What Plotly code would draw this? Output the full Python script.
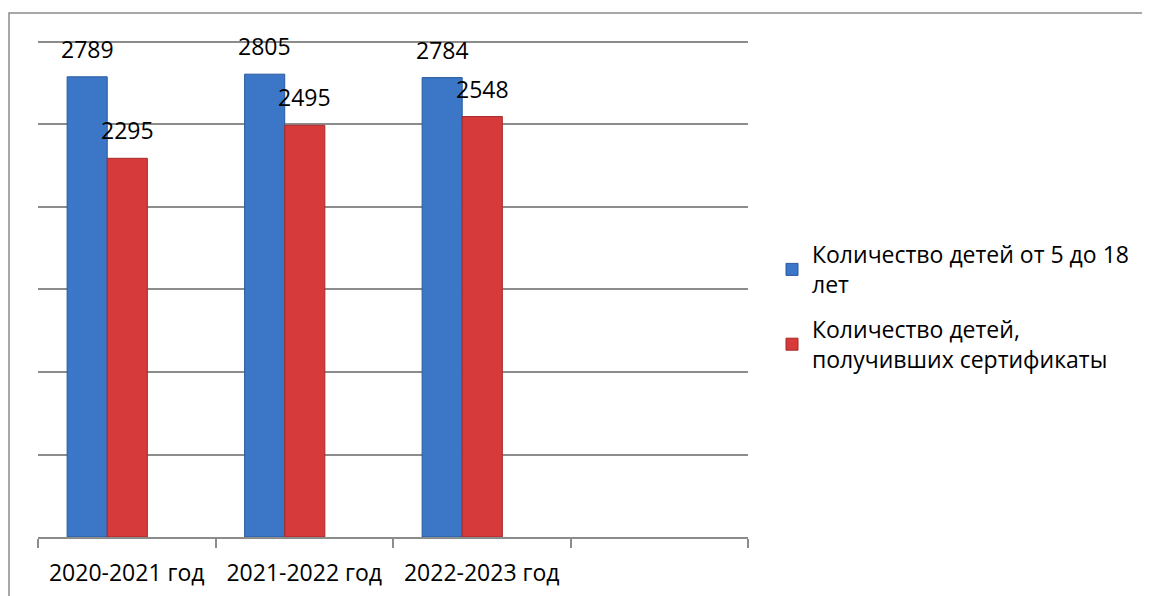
import plotly.graph_objects as go

categories = ["2020-2021 год", "2021-2022 год", "2022-2023 год"]
all_categories = categories + [" "]
series_names = ["Количество детей от 5 до 18<br>лет", "Количество детей,<br>получивших сертификаты"]
children_total = [2789, 2805, 2784]
children_certified = [2295, 2495, 2548]

FONT = "Open Sans"
FS = 23
W, H = 1142, 588
L, R, T, B = 30, 402, 32, 59
PW, PH = W - L - R, H - T - B

bar_w = 0.226
offsets = [-0.336, -0.336 + bar_w]
colors = ["#3b77c6", "#d63a3a"]
edge = ["#2a5a9e", "#a82828"]

fig = go.Figure()
for k, (name, vals, off, c, e) in enumerate(zip(series_names, [children_total, children_certified], offsets, colors, edge)):
    fig.add_trace(go.Bar(
        x=categories, y=vals, name=name, legendgroup=f"g{k}",
        offset=off, width=bar_w,
        marker=dict(color=c, line=dict(color=e, width=1)),
    ))
    for i, v in enumerate(vals):
        fig.add_annotation(
            x=i + off + bar_w / 2, y=v, xref="x", yref="y",
            text=str(v), showarrow=False, yanchor="bottom",
            yshift=10, font=dict(family=FONT, size=FS, color="#000000"),
        )

fig.add_shape(type="rect", xref="paper", yref="paper",
              x0=(1 - L) / PW, x1=(W + 20 - L) / PW,
              y0=-(B + 20) / PH, y1=(H - 5 - B) / PH,
              line=dict(color="#8c8c8c", width=1.5), fillcolor="rgba(0,0,0,0)", layer="below")

fig.update_layout(
    width=W, height=H,
    margin=dict(l=L, r=R, t=T, b=B, autoexpand=False),
    paper_bgcolor="white", plot_bgcolor="white",
    barmode="overlay",
    font=dict(family=FONT, size=FS, color="#000000"),
    showlegend=True,
    legend=dict(x=(764 - L) / PW, y=(H - B - 299) / PH, xanchor="left", yanchor="middle",
                font=dict(family=FONT, size=FS, color="#000000"),
                tracegroupgap=12, bgcolor="rgba(0,0,0,0)"),
    xaxis=dict(type="category", categoryorder="array", categoryarray=all_categories,
               range=[-0.5, 3.5], tickson="boundaries", ticks="outside", ticklen=9,
               tickcolor="#8c8c8c", tickwidth=1.5, showline=True, linecolor="#8c8c8c",
               linewidth=2, showgrid=False, ticklabelstandoff=14, automargin=False,
               tickfont=dict(family=FONT, size=FS, color="#000000")),
    yaxis=dict(range=[0, 3012], tickvals=[500, 1000, 1500, 2000, 2500, 3000],
               showgrid=True, gridcolor="#8c8c8c", gridwidth=2, automargin=False,
               showticklabels=False, showline=False, zeroline=False, ticks=""),
)

fig.write_html("out.html")
